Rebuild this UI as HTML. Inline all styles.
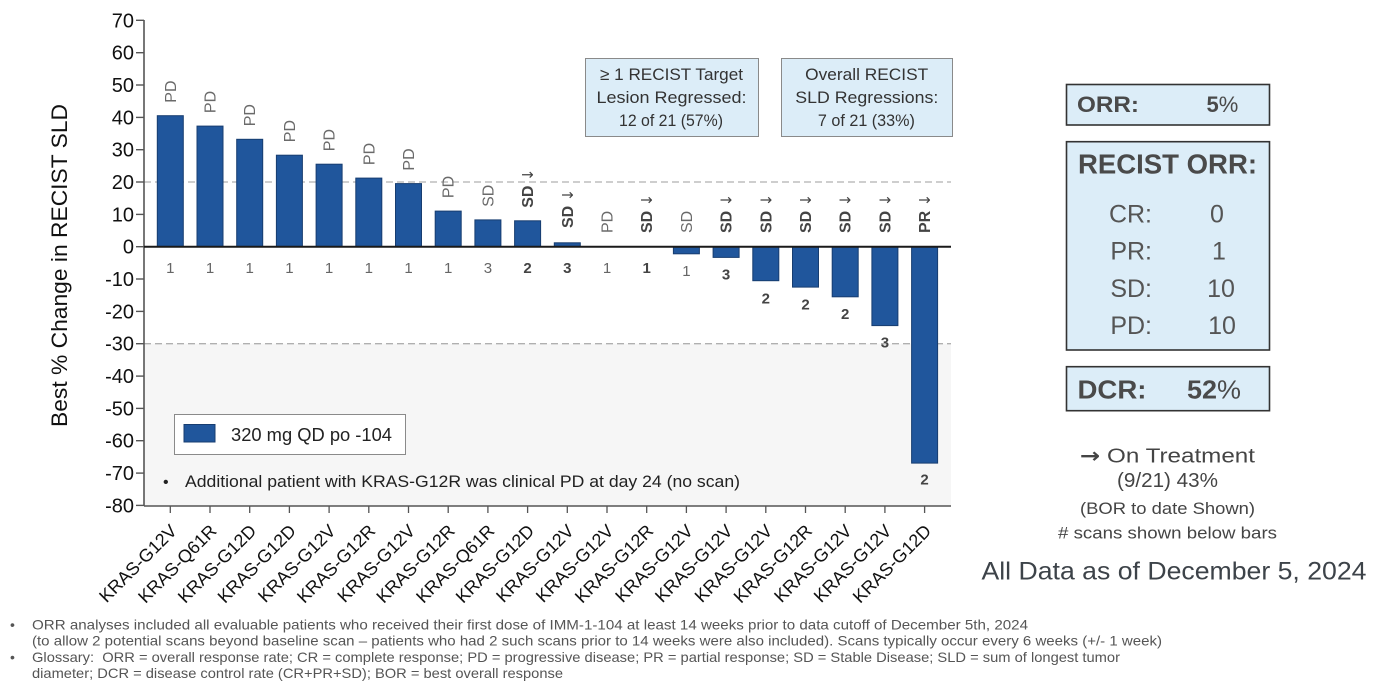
<!DOCTYPE html>
<html><head><meta charset="utf-8"><style>
html,body{margin:0;padding:0;background:#fff;}
svg{display:block;}
text{font-family:"Liberation Sans","DejaVu Sans",sans-serif;}
.ar{font-family:"DejaVu Sans",sans-serif;}
</style></head><body>
<svg width="1378" height="692" viewBox="0 0 1378 692" xmlns="http://www.w3.org/2000/svg">
<rect x="144" y="343.7" width="807" height="162" fill="#f6f6f6"/>
<line x1="144" y1="182" x2="951" y2="182" stroke="#b0b0b0" stroke-width="1.3" stroke-dasharray="7,4"/>
<line x1="144" y1="343.7" x2="951" y2="343.7" stroke="#b0b0b0" stroke-width="1.3" stroke-dasharray="7,4"/>

<line x1="144" y1="20" x2="144" y2="506" stroke="#555" stroke-width="1.6"/>
<g stroke="#555" stroke-width="1.4">
<line x1="136" y1="20.3" x2="144" y2="20.3"/>
<line x1="136" y1="52.7" x2="144" y2="52.7"/>
<line x1="136" y1="85" x2="144" y2="85"/>
<line x1="136" y1="117.4" x2="144" y2="117.4"/>
<line x1="136" y1="149.7" x2="144" y2="149.7"/>
<line x1="136" y1="182" x2="144" y2="182"/>
<line x1="136" y1="214.4" x2="144" y2="214.4"/>
<line x1="136" y1="246.7" x2="144" y2="246.7"/>
<line x1="136" y1="279" x2="144" y2="279"/>
<line x1="136" y1="311.4" x2="144" y2="311.4"/>
<line x1="136" y1="343.7" x2="144" y2="343.7"/>
<line x1="136" y1="376.1" x2="144" y2="376.1"/>
<line x1="136" y1="408.4" x2="144" y2="408.4"/>
<line x1="136" y1="440.7" x2="144" y2="440.7"/>
<line x1="136" y1="473.1" x2="144" y2="473.1"/>
<line x1="136" y1="505.4" x2="144" y2="505.4"/>
</g>
<g font-size="20" fill="#111" text-anchor="end">
<text x="134" y="27.3">70</text>
<text x="134" y="59.7">60</text>
<text x="134" y="92">50</text>
<text x="134" y="124.4">40</text>
<text x="134" y="156.7">30</text>
<text x="134" y="189">20</text>
<text x="134" y="221.4">10</text>
<text x="134" y="253.7">0</text>
<text x="134" y="286">-10</text>
<text x="134" y="318.4">-20</text>
<text x="134" y="350.7">-30</text>
<text x="134" y="383.1">-40</text>
<text x="134" y="415.4">-50</text>
<text x="134" y="447.7">-60</text>
<text x="134" y="480.1">-70</text>
<text x="134" y="512.4">-80</text>
</g>
<text transform="translate(67,265.5) rotate(-90)" text-anchor="middle" font-size="22.5" fill="#111" textLength="323" lengthAdjust="spacingAndGlyphs">Best % Change in RECIST SLD</text>

<line x1="144" y1="506" x2="951" y2="506" stroke="#555" stroke-width="1.5"/>
<g stroke="#555" stroke-width="1.3">
<line x1="170.3" y1="506" x2="170.3" y2="513"/>
<line x1="210" y1="506" x2="210" y2="513"/>
<line x1="249.7" y1="506" x2="249.7" y2="513"/>
<line x1="289.4" y1="506" x2="289.4" y2="513"/>
<line x1="329.1" y1="506" x2="329.1" y2="513"/>
<line x1="368.8" y1="506" x2="368.8" y2="513"/>
<line x1="408.5" y1="506" x2="408.5" y2="513"/>
<line x1="448.2" y1="506" x2="448.2" y2="513"/>
<line x1="487.9" y1="506" x2="487.9" y2="513"/>
<line x1="527.6" y1="506" x2="527.6" y2="513"/>
<line x1="567.3" y1="506" x2="567.3" y2="513"/>
<line x1="607" y1="506" x2="607" y2="513"/>
<line x1="646.7" y1="506" x2="646.7" y2="513"/>
<line x1="686.4" y1="506" x2="686.4" y2="513"/>
<line x1="726.1" y1="506" x2="726.1" y2="513"/>
<line x1="765.8" y1="506" x2="765.8" y2="513"/>
<line x1="805.5" y1="506" x2="805.5" y2="513"/>
<line x1="845.2" y1="506" x2="845.2" y2="513"/>
<line x1="884.9" y1="506" x2="884.9" y2="513"/>
<line x1="924.6" y1="506" x2="924.6" y2="513"/>
</g>

<g fill="#20569c" stroke="#173d70" stroke-width="1">
<rect x="157.3" y="115.7" width="26" height="131"/>
<rect x="197" y="126.1" width="26" height="120.6"/>
<rect x="236.7" y="139.3" width="26" height="107.4"/>
<rect x="276.4" y="155.2" width="26" height="91.5"/>
<rect x="316.1" y="164.2" width="26" height="82.5"/>
<rect x="355.8" y="178.1" width="26" height="68.6"/>
<rect x="395.5" y="183.6" width="26" height="63.1"/>
<rect x="435.2" y="211.1" width="26" height="35.6"/>
<rect x="474.9" y="219.9" width="26" height="26.8"/>
<rect x="514.6" y="220.8" width="26" height="25.9"/>
<rect x="554.3" y="242.8" width="26" height="3.9"/>
<rect x="673.4" y="246.7" width="26" height="7.1"/>
<rect x="713.1" y="246.7" width="26" height="10.7"/>
<rect x="752.8" y="246.7" width="26" height="34"/>
<rect x="792.5" y="246.7" width="26" height="40.4"/>
<rect x="832.2" y="246.7" width="26" height="50.1"/>
<rect x="871.9" y="246.7" width="26" height="78.9"/>
<rect x="911.6" y="246.7" width="26" height="216.4"/>
</g>
<line x1="144" y1="246.7" x2="951" y2="246.7" stroke="#1a1a1a" stroke-width="2"/>

<g font-size="16" fill="#6a6a6a">
<text transform="translate(175.8,102.7) rotate(-90)">PD</text>
<text transform="translate(215.5,113.1) rotate(-90)">PD</text>
<text transform="translate(255.2,126.3) rotate(-90)">PD</text>
<text transform="translate(294.9,142.2) rotate(-90)">PD</text>
<text transform="translate(334.6,151.2) rotate(-90)">PD</text>
<text transform="translate(374.3,165.1) rotate(-90)">PD</text>
<text transform="translate(414,170.6) rotate(-90)">PD</text>
<text transform="translate(453.7,198.1) rotate(-90)">PD</text>
<text transform="translate(493.4,206.9) rotate(-90)">SD</text>
<text transform="translate(612.5,233) rotate(-90)">PD</text>
<text transform="translate(691.9,233) rotate(-90)">SD</text>
</g>
<g font-size="16" font-weight="bold" fill="#444">
<text transform="translate(533.1,207.8) rotate(-90)">SD <tspan class="ar" font-weight="normal" font-size="15">↓</tspan></text>
<text transform="translate(572.8,228) rotate(-90)">SD <tspan class="ar" font-weight="normal" font-size="15">↓</tspan></text>
<text transform="translate(652.2,233) rotate(-90)">SD <tspan class="ar" font-weight="normal" font-size="15">↓</tspan></text>
<text transform="translate(731.6,233) rotate(-90)">SD <tspan class="ar" font-weight="normal" font-size="15">↓</tspan></text>
<text transform="translate(771.3,233) rotate(-90)">SD <tspan class="ar" font-weight="normal" font-size="15">↓</tspan></text>
<text transform="translate(811,233) rotate(-90)">SD <tspan class="ar" font-weight="normal" font-size="15">↓</tspan></text>
<text transform="translate(850.7,233) rotate(-90)">SD <tspan class="ar" font-weight="normal" font-size="15">↓</tspan></text>
<text transform="translate(890.4,233) rotate(-90)">SD <tspan class="ar" font-weight="normal" font-size="15">↓</tspan></text>
<text transform="translate(930.1,233) rotate(-90)">PR <tspan class="ar" font-weight="normal" font-size="15">↓</tspan></text>
</g>

<g font-size="15" fill="#666" text-anchor="middle">
<text x="170.3" y="273">1</text>
<text x="210" y="273">1</text>
<text x="249.7" y="273">1</text>
<text x="289.4" y="273">1</text>
<text x="329.1" y="273">1</text>
<text x="368.8" y="273">1</text>
<text x="408.5" y="273">1</text>
<text x="448.2" y="273">1</text>
<text x="487.9" y="273">3</text>
<text x="607" y="273">1</text>
<text x="686.4" y="276">1</text>
</g>
<g font-size="15" fill="#444" font-weight="bold" text-anchor="middle">
<text x="527.6" y="273">2</text>
<text x="567.3" y="273">3</text>
<text x="646.7" y="273">1</text>
<text x="726.1" y="279.4">3</text>
<text x="765.8" y="303.5">2</text>
<text x="805.5" y="309.5">2</text>
<text x="845.2" y="319">2</text>
<text x="884.9" y="347.6">3</text>
<text x="924.6" y="484.5">2</text>
</g>

<g font-size="18" fill="#111" text-anchor="end">
<text transform="translate(178,532) rotate(-45)">KRAS-G12V</text>
<text transform="translate(217.7,532) rotate(-45)">KRAS-Q61R</text>
<text transform="translate(257.4,532) rotate(-45)">KRAS-G12D</text>
<text transform="translate(297.1,532) rotate(-45)">KRAS-G12D</text>
<text transform="translate(336.8,532) rotate(-45)">KRAS-G12V</text>
<text transform="translate(376.5,532) rotate(-45)">KRAS-G12R</text>
<text transform="translate(416.2,532) rotate(-45)">KRAS-G12V</text>
<text transform="translate(455.9,532) rotate(-45)">KRAS-G12R</text>
<text transform="translate(495.6,532) rotate(-45)">KRAS-Q61R</text>
<text transform="translate(535.3,532) rotate(-45)">KRAS-G12D</text>
<text transform="translate(575,532) rotate(-45)">KRAS-G12V</text>
<text transform="translate(614.7,532) rotate(-45)">KRAS-G12V</text>
<text transform="translate(654.4,532) rotate(-45)">KRAS-G12R</text>
<text transform="translate(694.1,532) rotate(-45)">KRAS-G12V</text>
<text transform="translate(733.8,532) rotate(-45)">KRAS-G12V</text>
<text transform="translate(773.5,532) rotate(-45)">KRAS-G12V</text>
<text transform="translate(813.2,532) rotate(-45)">KRAS-G12R</text>
<text transform="translate(852.9,532) rotate(-45)">KRAS-G12V</text>
<text transform="translate(892.6,532) rotate(-45)">KRAS-G12V</text>
<text transform="translate(932.3,532) rotate(-45)">KRAS-G12D</text>
</g>

<rect x="174.5" y="414.5" width="231" height="40" fill="#fff" stroke="#8a8a8a" stroke-width="1"/>
<rect x="184" y="424.5" width="31" height="17.5" fill="#20569c" stroke="#173d70" stroke-width="1"/>
<text x="231" y="441" font-size="18" fill="#222" textLength="161" lengthAdjust="spacingAndGlyphs">320 mg QD po -104</text>
<text x="163" y="487" font-size="16" fill="#222">•</text>
<text x="185" y="487" font-size="16.5" fill="#222" textLength="555" lengthAdjust="spacingAndGlyphs">Additional patient with KRAS-G12R was clinical PD at day 24 (no scan)</text>

<rect x="585.5" y="58.5" width="173" height="78" fill="#dcedf8" stroke="#8a8a8a" stroke-width="1"/>
<g font-size="17" fill="#333" text-anchor="middle">
<text x="671.5" y="80" textLength="143" lengthAdjust="spacingAndGlyphs">≥ 1 RECIST Target</text>
<text x="671.5" y="103" textLength="150" lengthAdjust="spacingAndGlyphs">Lesion Regressed:</text>
<text x="671" y="126" textLength="104" lengthAdjust="spacingAndGlyphs">12 of 21 (57%)</text>
</g>
<rect x="781.5" y="58.5" width="171" height="78" fill="#dcedf8" stroke="#8a8a8a" stroke-width="1"/>
<g font-size="17" fill="#333" text-anchor="middle">
<text x="866.7" y="80" textLength="123" lengthAdjust="spacingAndGlyphs">Overall RECIST</text>
<text x="866.8" y="103" textLength="143" lengthAdjust="spacingAndGlyphs">SLD Regressions:</text>
<text x="866.4" y="126" textLength="97" lengthAdjust="spacingAndGlyphs">7 of 21 (33%)</text>
</g>

<rect x="1066.5" y="84.5" width="203" height="40.5" fill="#dcedf8" stroke="#333" stroke-width="1.6"/>
<text x="1077" y="112" font-size="22" font-weight="bold" fill="#4a4a4a" textLength="62" lengthAdjust="spacingAndGlyphs">ORR:</text>
<text x="1206.5" y="112" font-size="22" fill="#4a4a4a"><tspan font-weight="bold">5</tspan>%</text>

<rect x="1066.5" y="141.7" width="203" height="208.3" fill="#dcedf8" stroke="#333" stroke-width="1.6"/>
<text x="1078" y="173.5" font-size="28" font-weight="bold" fill="#4a4a4a" textLength="179" lengthAdjust="spacingAndGlyphs">RECIST ORR:</text>
<g font-size="25" fill="#555">
<text x="1152" y="222.5" text-anchor="end">CR:</text>
<text x="1152" y="259.5" text-anchor="end">PR:</text>
<text x="1152" y="297" text-anchor="end">SD:</text>
<text x="1152" y="334" text-anchor="end">PD:</text>
<text x="1217" y="222.5" text-anchor="middle">0</text>
<text x="1219" y="259.5" text-anchor="middle">1</text>
<text x="1221" y="297" text-anchor="middle">10</text>
<text x="1222" y="334" text-anchor="middle">10</text>
</g>

<rect x="1066.5" y="366.7" width="203" height="44" fill="#dcedf8" stroke="#333" stroke-width="1.6"/>
<text x="1077.5" y="398.5" font-size="26" font-weight="bold" fill="#4a4a4a" textLength="69" lengthAdjust="spacingAndGlyphs">DCR:</text>
<text x="1187" y="398.5" font-size="26" fill="#4a4a4a" textLength="54" lengthAdjust="spacingAndGlyphs"><tspan font-weight="bold">52</tspan>%</text>

<g fill="#444" text-anchor="middle">
<text x="1167.5" y="462.5" font-size="20.5" textLength="175" lengthAdjust="spacingAndGlyphs"><tspan class="ar" font-weight="bold">→</tspan> On Treatment</text>
<text x="1167.5" y="487" font-size="20.5" textLength="101" lengthAdjust="spacingAndGlyphs">(9/21) 43%</text>
<text x="1167.5" y="514" font-size="17" textLength="175" lengthAdjust="spacingAndGlyphs">(BOR to date Shown)</text>
<text x="1167.5" y="538.5" font-size="17" textLength="219" lengthAdjust="spacingAndGlyphs"># scans shown below bars</text>
</g>
<text x="1174" y="579.5" font-size="25" fill="#3d4349" text-anchor="middle" textLength="385" lengthAdjust="spacingAndGlyphs">All Data as of December 5, 2024</text>

<g font-size="14" fill="#555">
<text x="10" y="629.5">•</text>
<text x="10" y="662">•</text>
<text x="32" y="629.5" textLength="996" lengthAdjust="spacingAndGlyphs">ORR analyses included all evaluable patients who received their first dose of IMM-1-104 at least 14 weeks prior to data cutoff of December 5th, 2024</text>
<text x="32" y="645.7" textLength="1130" lengthAdjust="spacingAndGlyphs">(to allow 2 potential scans beyond baseline scan – patients who had 2 such scans prior to 14 weeks were also included). Scans typically occur every 6 weeks (+/- 1 week)</text>
<text x="32" y="662" textLength="1088" lengthAdjust="spacingAndGlyphs" xml:space="preserve">Glossary:  ORR = overall response rate; CR = complete response; PD = progressive disease; PR = partial response; SD = Stable Disease; SLD = sum of longest tumor</text>
<text x="32" y="678" textLength="531" lengthAdjust="spacingAndGlyphs">diameter; DCR = disease control rate (CR+PR+SD); BOR = best overall response</text>
</g>
</svg>
</body></html>
